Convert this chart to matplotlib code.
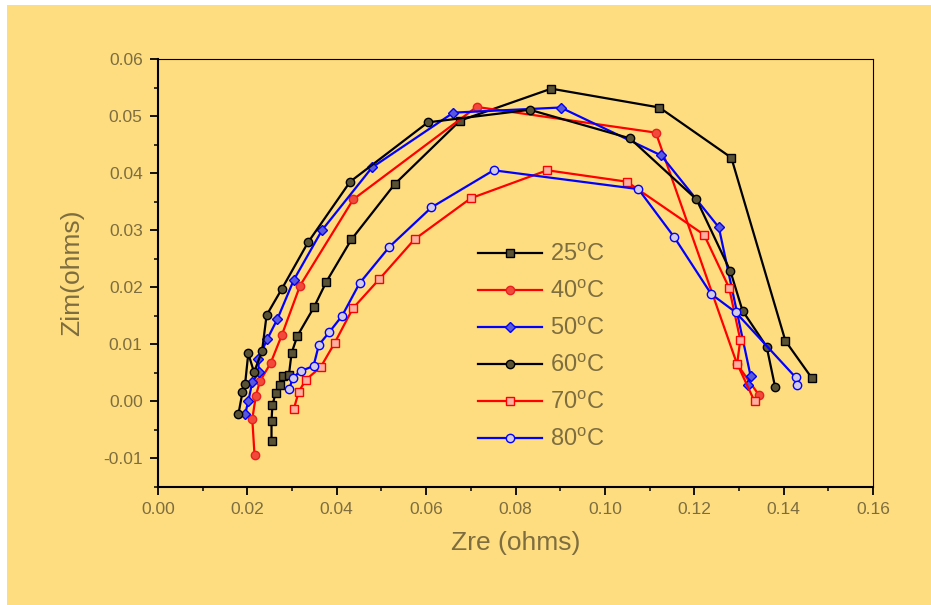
import matplotlib
matplotlib.use("Agg")
import matplotlib.pyplot as plt
from matplotlib.patches import Rectangle
from matplotlib.ticker import MultipleLocator

plt.rcParams['font.family'] = ['Liberation Sans', 'DejaVu Sans']
plt.rcParams['mathtext.fontset'] = 'custom'
plt.rcParams['mathtext.rm'] = 'Liberation Sans'

# data (Zre, Zim in ohms)
zre_25 = [0.0254, 0.0254, 0.0256, 0.0263, 0.0272, 0.0279, 0.0293, 0.0299, 0.0312, 0.0349,
          0.0377, 0.0433, 0.0530, 0.0676, 0.0880, 0.1122, 0.1283, 0.1404, 0.1463]
zim_25 = [-0.0070, -0.0034, -0.0007, 0.0014, 0.0029, 0.0045, 0.0047, 0.0085, 0.0115, 0.0165,
          0.0210, 0.0284, 0.0381, 0.0492, 0.0548, 0.0515, 0.0427, 0.0106, 0.0041]

zre_40 = [0.0216, 0.0211, 0.0219, 0.0228, 0.0252, 0.0277, 0.0318, 0.0437, 0.0713, 0.1114,
          0.1296, 0.1344]
zim_40 = [-0.0094, -0.0031, 0.0010, 0.0035, 0.0067, 0.0116, 0.0203, 0.0354, 0.0516, 0.0471,
          0.0065, 0.0012]

zre_50 = [0.0195, 0.0202, 0.0211, 0.0226, 0.0224, 0.0245, 0.0267, 0.0304, 0.0367, 0.0479,
          0.0661, 0.0901, 0.1126, 0.1255, 0.1326, 0.1320]
zim_50 = [-0.0022, 0.0000, 0.0034, 0.0051, 0.0074, 0.0110, 0.0144, 0.0213, 0.0300, 0.0410,
          0.0506, 0.0515, 0.0431, 0.0305, 0.0045, 0.0029]

zre_60 = [0.0180, 0.0189, 0.0195, 0.0202, 0.0215, 0.0233, 0.0243, 0.0277, 0.0336, 0.0430,
          0.0604, 0.0832, 0.1056, 0.1205, 0.1281, 0.1308, 0.1362, 0.1381]
zim_60 = [-0.0022, 0.0016, 0.0031, 0.0084, 0.0051, 0.0089, 0.0151, 0.0197, 0.0279, 0.0385,
          0.0489, 0.0511, 0.0461, 0.0354, 0.0228, 0.0159, 0.0096, 0.0025]

zre_70 = [0.0304, 0.0315, 0.0331, 0.0364, 0.0395, 0.0436, 0.0495, 0.0574, 0.0700, 0.0871,
          0.1049, 0.1222, 0.1278, 0.1303, 0.1296, 0.1335]
zim_70 = [-0.0013, 0.0017, 0.0038, 0.0060, 0.0102, 0.0163, 0.0214, 0.0284, 0.0356, 0.0405,
          0.0385, 0.0292, 0.0199, 0.0108, 0.0066, 0.0000]

zre_80 = [0.0294, 0.0301, 0.0319, 0.0348, 0.0360, 0.0383, 0.0412, 0.0451, 0.0518, 0.0612,
          0.0751, 0.1075, 0.1155, 0.1238, 0.1293, 0.1427, 0.1431]
zim_80 = [0.0021, 0.0041, 0.0053, 0.0062, 0.0099, 0.0121, 0.0150, 0.0207, 0.0271, 0.0340,
          0.0405, 0.0372, 0.0288, 0.0188, 0.0156, 0.0042, 0.0029]

labels = ['25', '40', '50', '60', '70', '80']

bg = '#fedd80'
txt = '#7d6d3f'

fig = plt.figure(figsize=(9.31, 6.05), dpi=100, facecolor='white')
fig.add_artist(Rectangle((7/931, 0), 1, 600/605, transform=fig.transFigure,
                         facecolor=bg, edgecolor='none', zorder=-10))
ax = fig.add_axes([158/931, 1-487/605, 715/931, 428/605])
ax.set_facecolor(bg)

ax.plot(zre_25, zim_25, '-s', color='black', mfc='#5a5234', mec='black', ms=5.5, lw=1.6,
        label=labels[0] + r'$^\mathregular{o}$C')
ax.plot(zre_40, zim_40, '-o', color='red', mfc='#f24a3a', mec='#e82020', ms=6, lw=1.6,
        label=labels[1] + r'$^\mathregular{o}$C')
ax.plot(zre_50, zim_50, '-D', color='blue', mfc='#5a5ad8', mec='blue', ms=5.5, lw=1.6,
        label=labels[2] + r'$^\mathregular{o}$C')
ax.plot(zre_60, zim_60, '-o', color='black', mfc='#5a5234', mec='black', ms=6, lw=1.6,
        label=labels[3] + r'$^\mathregular{o}$C')
ax.plot(zre_70, zim_70, '-s', color='red', mfc='#fbb0a0', mec='red', ms=5.5, lw=1.6,
        label=labels[4] + r'$^\mathregular{o}$C')
ax.plot(zre_80, zim_80, '-o', color='blue', mfc='#d2cae6', mec='blue', ms=6, lw=1.6,
        label=labels[5] + r'$^\mathregular{o}$C')

ax.set_xlim(0, 0.16)
ax.set_ylim(-0.015, 0.06)
ax.xaxis.set_major_locator(MultipleLocator(0.02))
ax.xaxis.set_minor_locator(MultipleLocator(0.01))
ax.yaxis.set_major_locator(MultipleLocator(0.01))
ax.yaxis.set_minor_locator(MultipleLocator(0.005))
ax.set_xticklabels(['%.2f' % v for v in ax.get_xticks()])
ax.set_yticklabels(['%.2f' % v for v in ax.get_yticks()])

for s in ['left', 'bottom']:
    ax.spines[s].set_linewidth(1.5)
for s in ['top', 'right']:
    ax.spines[s].set_linewidth(0.8)
ax.tick_params(which='major', direction='out', length=6, width=1.3, labelsize=12.5,
               labelcolor=txt, pad=5)
ax.tick_params(which='minor', direction='out', length=3, width=1.1)

ax.set_xlabel('Zre (ohms)', fontsize=19, color=txt, labelpad=10)
ax.set_ylabel('Zim(ohms)', fontsize=19, color=txt, labelpad=14)

leg = ax.legend(loc='upper left', bbox_to_anchor=(0.448, 0.57), frameon=False,
                fontsize=17, handlelength=2.7, handletextpad=0.35, labelspacing=0.6,
                borderpad=0, borderaxespad=0)
for t in leg.get_texts():
    t.set_color(txt)

fig.savefig('out.png', dpi=100, facecolor=fig.get_facecolor())
